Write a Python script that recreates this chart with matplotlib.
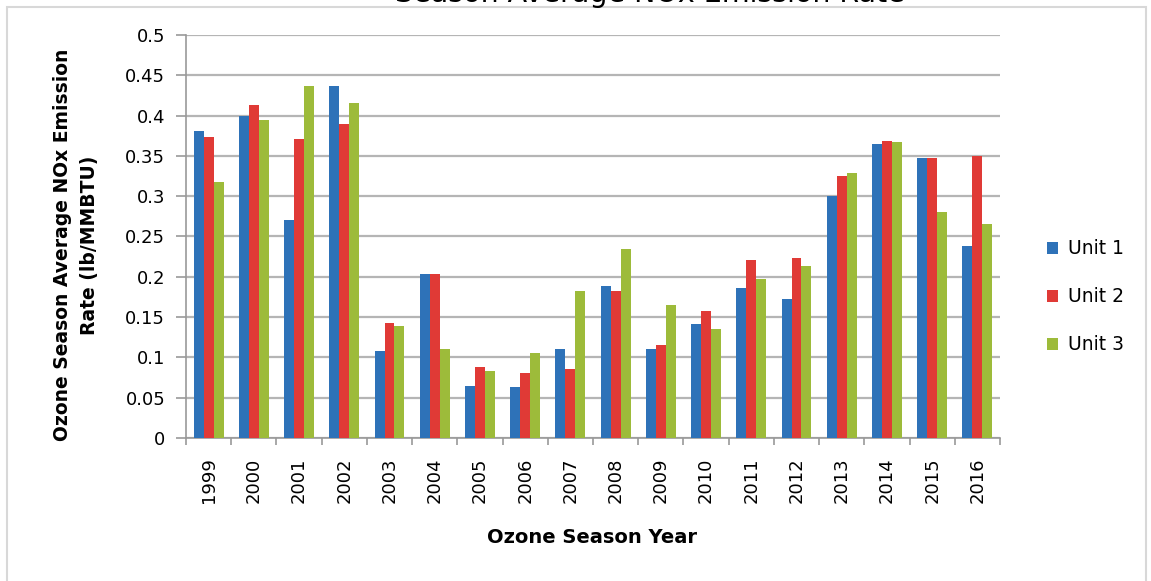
import numpy as np
import matplotlib
matplotlib.use("Agg")
import matplotlib.pyplot as plt
from matplotlib.patches import Rectangle

# Données
annees = ["1999", "2000", "2001", "2002", "2003", "2004", "2005", "2006", "2007",
          "2008", "2009", "2010", "2011", "2012", "2013", "2014", "2015", "2016"]
unite_1 = [0.381, 0.399, 0.271, 0.437, 0.108, 0.203, 0.065, 0.063, 0.111,
           0.188, 0.110, 0.141, 0.186, 0.173, 0.300, 0.365, 0.347, 0.238]
unite_2 = [0.374, 0.413, 0.371, 0.390, 0.143, 0.203, 0.088, 0.081, 0.086,
           0.183, 0.116, 0.158, 0.221, 0.223, 0.325, 0.368, 0.348, 0.350]
unite_3 = [0.317, 0.395, 0.437, 0.415, 0.139, 0.110, 0.083, 0.106, 0.183,
           0.235, 0.165, 0.135, 0.197, 0.213, 0.329, 0.367, 0.281, 0.266]
series = ["Unit 1", "Unit 2", "Unit 3"]
couleurs = ["#2e72b8", "#e03a36", "#9dbb3a"]

fig = plt.figure(figsize=(11.51, 5.81), dpi=100)
ax = fig.add_axes([0.1616, 0.2461, 0.7072, 0.6937])

x = np.arange(len(annees))
largeur = 0.22
for i, (vals, nom, c) in enumerate(zip([unite_1, unite_2, unite_3], series, couleurs)):
    ax.bar(x + (i - 1) * largeur, vals, largeur, color=c, label=nom, zorder=3)

ax.set_xlim(-0.5, len(annees) - 0.5)
ax.set_ylim(0, 0.5)
ax.set_yticks(np.arange(0, 0.501, 0.05))
ax.set_yticklabels(["0", "0.05", "0.1", "0.15", "0.2", "0.25", "0.3", "0.35",
                    "0.4", "0.45", "0.5"])
ax.yaxis.grid(True, color="#b5b5b5", linewidth=1.6, zorder=0)

# ticks entre les catégories
ax.set_xticks(x)
ax.set_xticklabels(annees, rotation=90)
ax.set_xticks(np.arange(-0.5, len(annees)), minor=True)
ax.tick_params(axis="x", which="major", length=0, pad=14, labelsize=13)
ax.tick_params(axis="x", which="minor", length=5, color="#999999", width=1.2)
ax.tick_params(axis="y", length=7, pad=8, color="#999999", width=1.2, labelsize=13)

for s in ["top", "right"]:
    ax.spines[s].set_visible(False)
for s in ["left", "bottom"]:
    ax.spines[s].set_color("#999999")
    ax.spines[s].set_linewidth(1.2)

fig.text(0.5143, 0.0757, "Ozone Season Year", ha="center", va="center",
         fontsize=14, fontweight="bold")
fig.text(0.066, 0.578, "Ozone Season Average NOx Emission\nRate (lb/MMBTU)",
         ha="center", va="center", rotation=90, fontsize=13.5,
         fontweight="bold", linespacing=1.55)

# titre coupé en haut de l'image (seul le bas des lettres est visible)
fig.text(0.565, 0.9957, "Season Average NOx Emission Rate", ha="center",
         va="baseline", fontsize=20.5)

leg = fig.legend(loc="center left", bbox_to_anchor=(0.895, 0.489), frameon=False,
                 fontsize=13.5, handlelength=0.6, handleheight=0.6,
                 handletextpad=0.5, labelspacing=1.55)

# cadre gris clair autour du graphique
fig.patches.append(Rectangle((0.006, -0.05), 0.99, 1.038, transform=fig.transFigure,
                             fill=False, edgecolor="#d8d8d8", linewidth=1.5))

fig.savefig("out.png", dpi=100)
